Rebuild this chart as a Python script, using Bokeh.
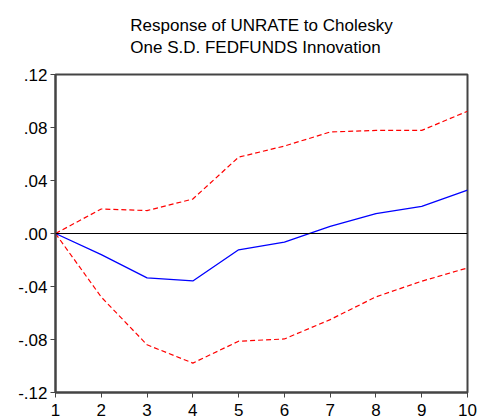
from bokeh.plotting import figure
from bokeh.models import FixedTicker, Range1d, Span, Title
from bokeh.embed import file_html
from bokeh.resources import INLINE

periods = [1, 2, 3, 4, 5, 6, 7, 8, 9, 10]
response = [0.0, -0.016, -0.0335, -0.0358, -0.0123, -0.0065, 0.0053, 0.015, 0.0205, 0.0328]
upper = [0.0, 0.0185, 0.0173, 0.026, 0.0576, 0.066, 0.0766, 0.0778, 0.0778, 0.0923]
lower = [0.0, -0.048, -0.084, -0.0978, -0.0813, -0.0796, -0.065, -0.0478, -0.036, -0.026]
y_ticks = [-0.12, -0.08, -0.04, 0.0, 0.04, 0.08, 0.12]
y_tick_labels = ["-.12", "-.08", "-.04", ".00", ".04", ".08", ".12"]
x_ticks = periods
title_lines = ["Response of UNRATE to Cholesky", "One S.D. FEDFUNDS Innovation"]

FONT = "Liberation Sans"

p = figure(width=479, height=418, output_backend="svg", toolbar_location=None,
           x_range=Range1d(1, 10), y_range=Range1d(-0.12, 0.12),
           min_border_left=55, min_border_right=12, min_border_top=0, min_border_bottom=10)
p.title = Title(text="\n".join(title_lines), align="center", text_font=FONT,
                text_font_size="17px", text_font_style="normal", text_color="#000000",
                text_line_height=1.2, standoff=30, vertical_align="top")

p.grid.visible = False
p.background_fill_color = "white"
p.border_fill_color = "white"
p.outline_line_color = "#444444"
p.outline_line_width = 2

for ax in (p.xaxis[0], p.yaxis[0]):
    ax.axis_line_color = "#444444"
    ax.axis_line_width = 2
    ax.major_tick_line_color = "#444444"
    ax.major_tick_line_width = 1
    ax.major_tick_in = 0
    ax.major_tick_out = 5
    ax.minor_tick_line_color = None
    ax.major_label_text_font = FONT
    ax.major_label_text_font_size = "17px"
    ax.major_label_text_color = "#000000"

p.yaxis[0].ticker = FixedTicker(ticks=y_ticks)
p.yaxis[0].major_label_overrides = {t: l for t, l in zip(y_ticks, y_tick_labels)}
p.yaxis[0].major_label_standoff = 3
p.xaxis[0].ticker = FixedTicker(ticks=x_ticks)
p.xaxis[0].major_label_standoff = 6

p.add_layout(Span(location=0, dimension="width", line_color="#000000", line_width=1))

p.line(periods, upper, line_color="#ff0000", line_width=1.2, line_dash="5 3")
p.line(periods, lower, line_color="#ff0000", line_width=1.2, line_dash="5 3")
p.line(periods, response, line_color="#0000ff", line_width=1.3)

open("out.html", "w").write(file_html(p, INLINE))
